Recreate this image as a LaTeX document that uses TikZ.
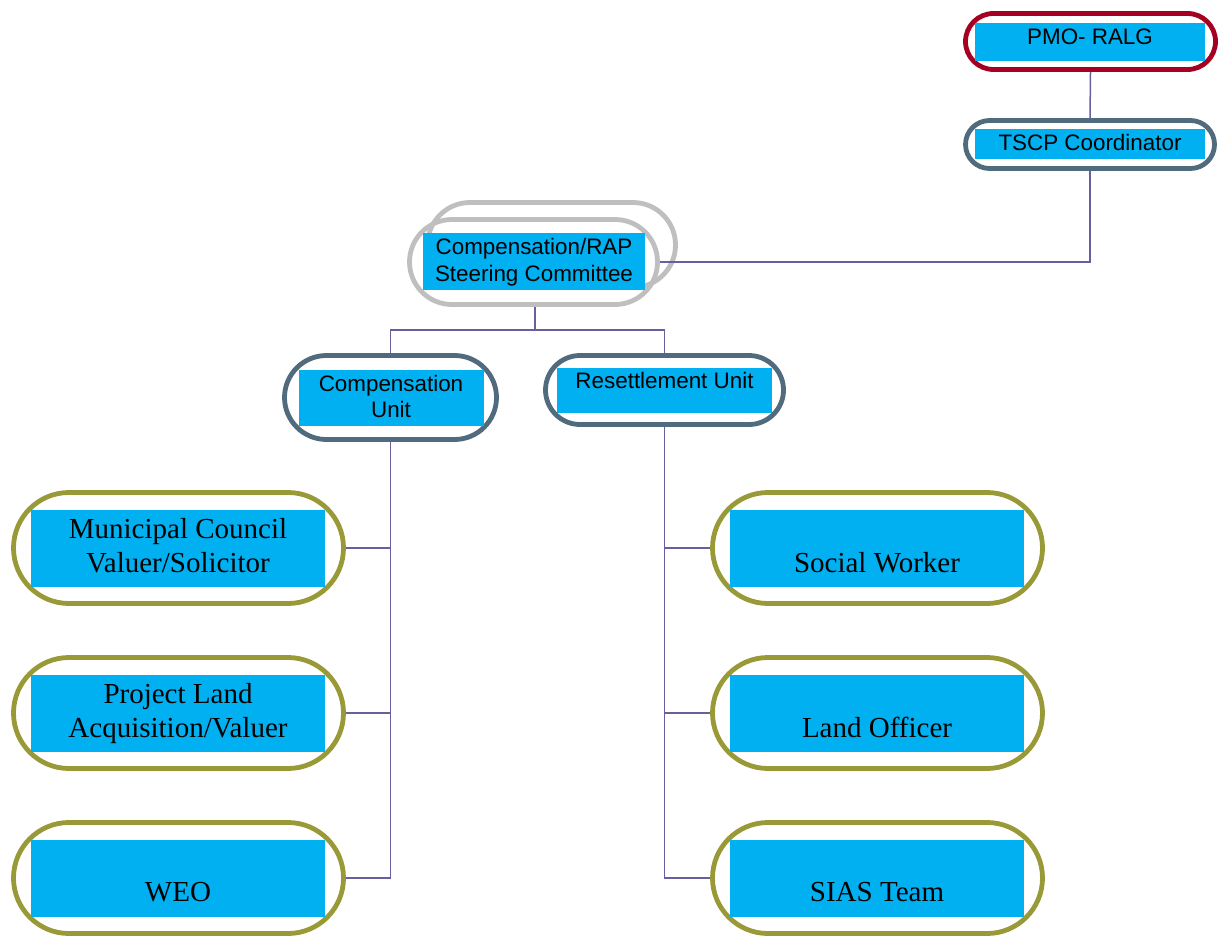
\documentclass[tikz,border=0pt]{standalone}
\usepackage{fontspec}
\setmainfont{Liberation Serif}
\setsansfont{Liberation Sans}
\definecolor{boxblue}{RGB}{0,176,240}
\definecolor{crim}{RGB}{165,0,33}
\definecolor{slate}{RGB}{80,107,125}
\definecolor{olivec}{RGB}{154,153,56}
\definecolor{grayc}{RGB}{191,191,191}
\definecolor{linec}{RGB}{104,96,156}
\begin{document}
\begin{tikzpicture}[x=1pt,y=-1pt,
  stad/.style={draw=#1,line width=4.8pt,rectangle,inner sep=0pt,fill=white},
  bbox/.style={fill=boxblue,rectangle,inner sep=0pt},
  stxt/.style={font=\fontsize{22.4}{26}\selectfont\sffamily,anchor=base,inner sep=0pt},
  rtxt/.style={font=\fontsize{29}{34}\selectfont\rmfamily,anchor=base,inner sep=0pt},
  conn/.style={draw=linec,line width=1.5pt}]
\useasboundingbox (0,0) rectangle (1222,936);
% PMO
\node[stad=crim,minimum width=250pt,minimum height=56pt,rounded corners=28pt] (pmo) at (1090.5,41.5) {};
\node[bbox,minimum width=230pt,minimum height=38pt] (pmob) at (1090,42) {};
\node[stxt] (pmot) at (1090,44.5) {PMO- RALG};
% TSCP
\node[stad=slate,minimum width=249pt,minimum height=48pt,rounded corners=24pt] (tscp) at (1090,144.5) {};
\node[bbox,minimum width=230pt,minimum height=30pt] (tscpb) at (1090,144) {};
\node[stxt] (tscpt) at (1090,151) {TSCP Coordinator};
% Steering committee
\node[stad=grayc,minimum width=248pt,minimum height=85pt,rounded corners=42.5pt] (steerbk) at (551.5,245) {};
\node[stad=grayc,minimum width=248pt,minimum height=85pt,rounded corners=42.5pt,fill=none] (steer) at (533.5,262) {};
\node[bbox,minimum width=222pt,minimum height=57pt] (steerb) at (534,261.5) {};
\node[stxt] (steert1) at (534,254) {Compensation/RAP};
\node[stxt] (steert2) at (534,281) {Steering Committee};
% Compensation Unit
\node[stad=slate,minimum width=212pt,minimum height=84pt,rounded corners=42pt] (cu) at (390.5,397.5) {};
\node[bbox,minimum width=185pt,minimum height=56pt] (cub) at (391.5,398) {};
\node[stxt] (cut1) at (391,391) {Compensation};
\node[stxt] (cut2) at (391,417) {Unit};
% Resettlement Unit
\node[stad=slate,minimum width=238pt,minimum height=69pt,rounded corners=34.5pt] (ru) at (664.5,390) {};
\node[bbox,minimum width=215pt,minimum height=45pt] (rub) at (664.5,390.5) {};
\node[stxt] (rut) at (664.5,388) {Resettlement Unit};
% Left column
\node[stad=olivec,minimum width=330pt,minimum height=111pt,rounded corners=55.5pt] (l1) at (178.5,548) {};
\node[bbox,minimum width=294pt,minimum height=77pt] (l1b) at (178,548.5) {};
\node[rtxt] (l1t1) at (178,538) {Municipal Council};
\node[rtxt] (l1t2) at (178,572) {Valuer/Solicitor};
\node[stad=olivec,minimum width=330pt,minimum height=111pt,rounded corners=55.5pt] (l2) at (178.5,713) {};
\node[bbox,minimum width=294pt,minimum height=77pt] (l2b) at (178,713.5) {};
\node[rtxt] (l2t1) at (178,703) {Project Land};
\node[rtxt] (l2t2) at (178,737) {Acquisition/Valuer};
\node[stad=olivec,minimum width=330pt,minimum height=111pt,rounded corners=55.5pt] (l3) at (178.5,878) {};
\node[bbox,minimum width=294pt,minimum height=77pt] (l3b) at (178,878.5) {};
\node[rtxt] (l3t) at (178,901) {WEO};
% Right column
\node[stad=olivec,minimum width=330pt,minimum height=111pt,rounded corners=55.5pt] (r1) at (877.5,548) {};
\node[bbox,minimum width=294pt,minimum height=77pt] (r1b) at (877,548.5) {};
\node[rtxt] (r1t) at (877,572) {Social Worker};
\node[stad=olivec,minimum width=330pt,minimum height=111pt,rounded corners=55.5pt] (r2) at (877.5,713) {};
\node[bbox,minimum width=294pt,minimum height=77pt] (r2b) at (877,713.5) {};
\node[rtxt] (r2t) at (877,737) {Land Officer};
\node[stad=olivec,minimum width=330pt,minimum height=111pt,rounded corners=55.5pt] (r3) at (877.5,878) {};
\node[bbox,minimum width=294pt,minimum height=77pt] (r3b) at (877,878.5) {};
\node[rtxt] (r3t) at (877,901) {SIAS Team};
% connectors
\coordinate (bus) at (535,330);
\draw[conn] (pmo.south) -- (tscp.north);
\draw[conn] (tscp.south) |- (steer.east);
\draw[conn] (steer.south -| bus) -- (bus);
\draw[conn] (cu.north) |- (bus) -| (ru.north);
\draw[conn] (cu.south) |- (l3.east);
\draw[conn] (l1.east) -- (l1.east -| cu.south);
\draw[conn] (l2.east) -- (l2.east -| cu.south);
\draw[conn] (ru.south) |- (r3.west);
\draw[conn] (r1.west) -- (r1.west -| ru.south);
\draw[conn] (r2.west) -- (r2.west -| ru.south);
\end{tikzpicture}
\end{document}
